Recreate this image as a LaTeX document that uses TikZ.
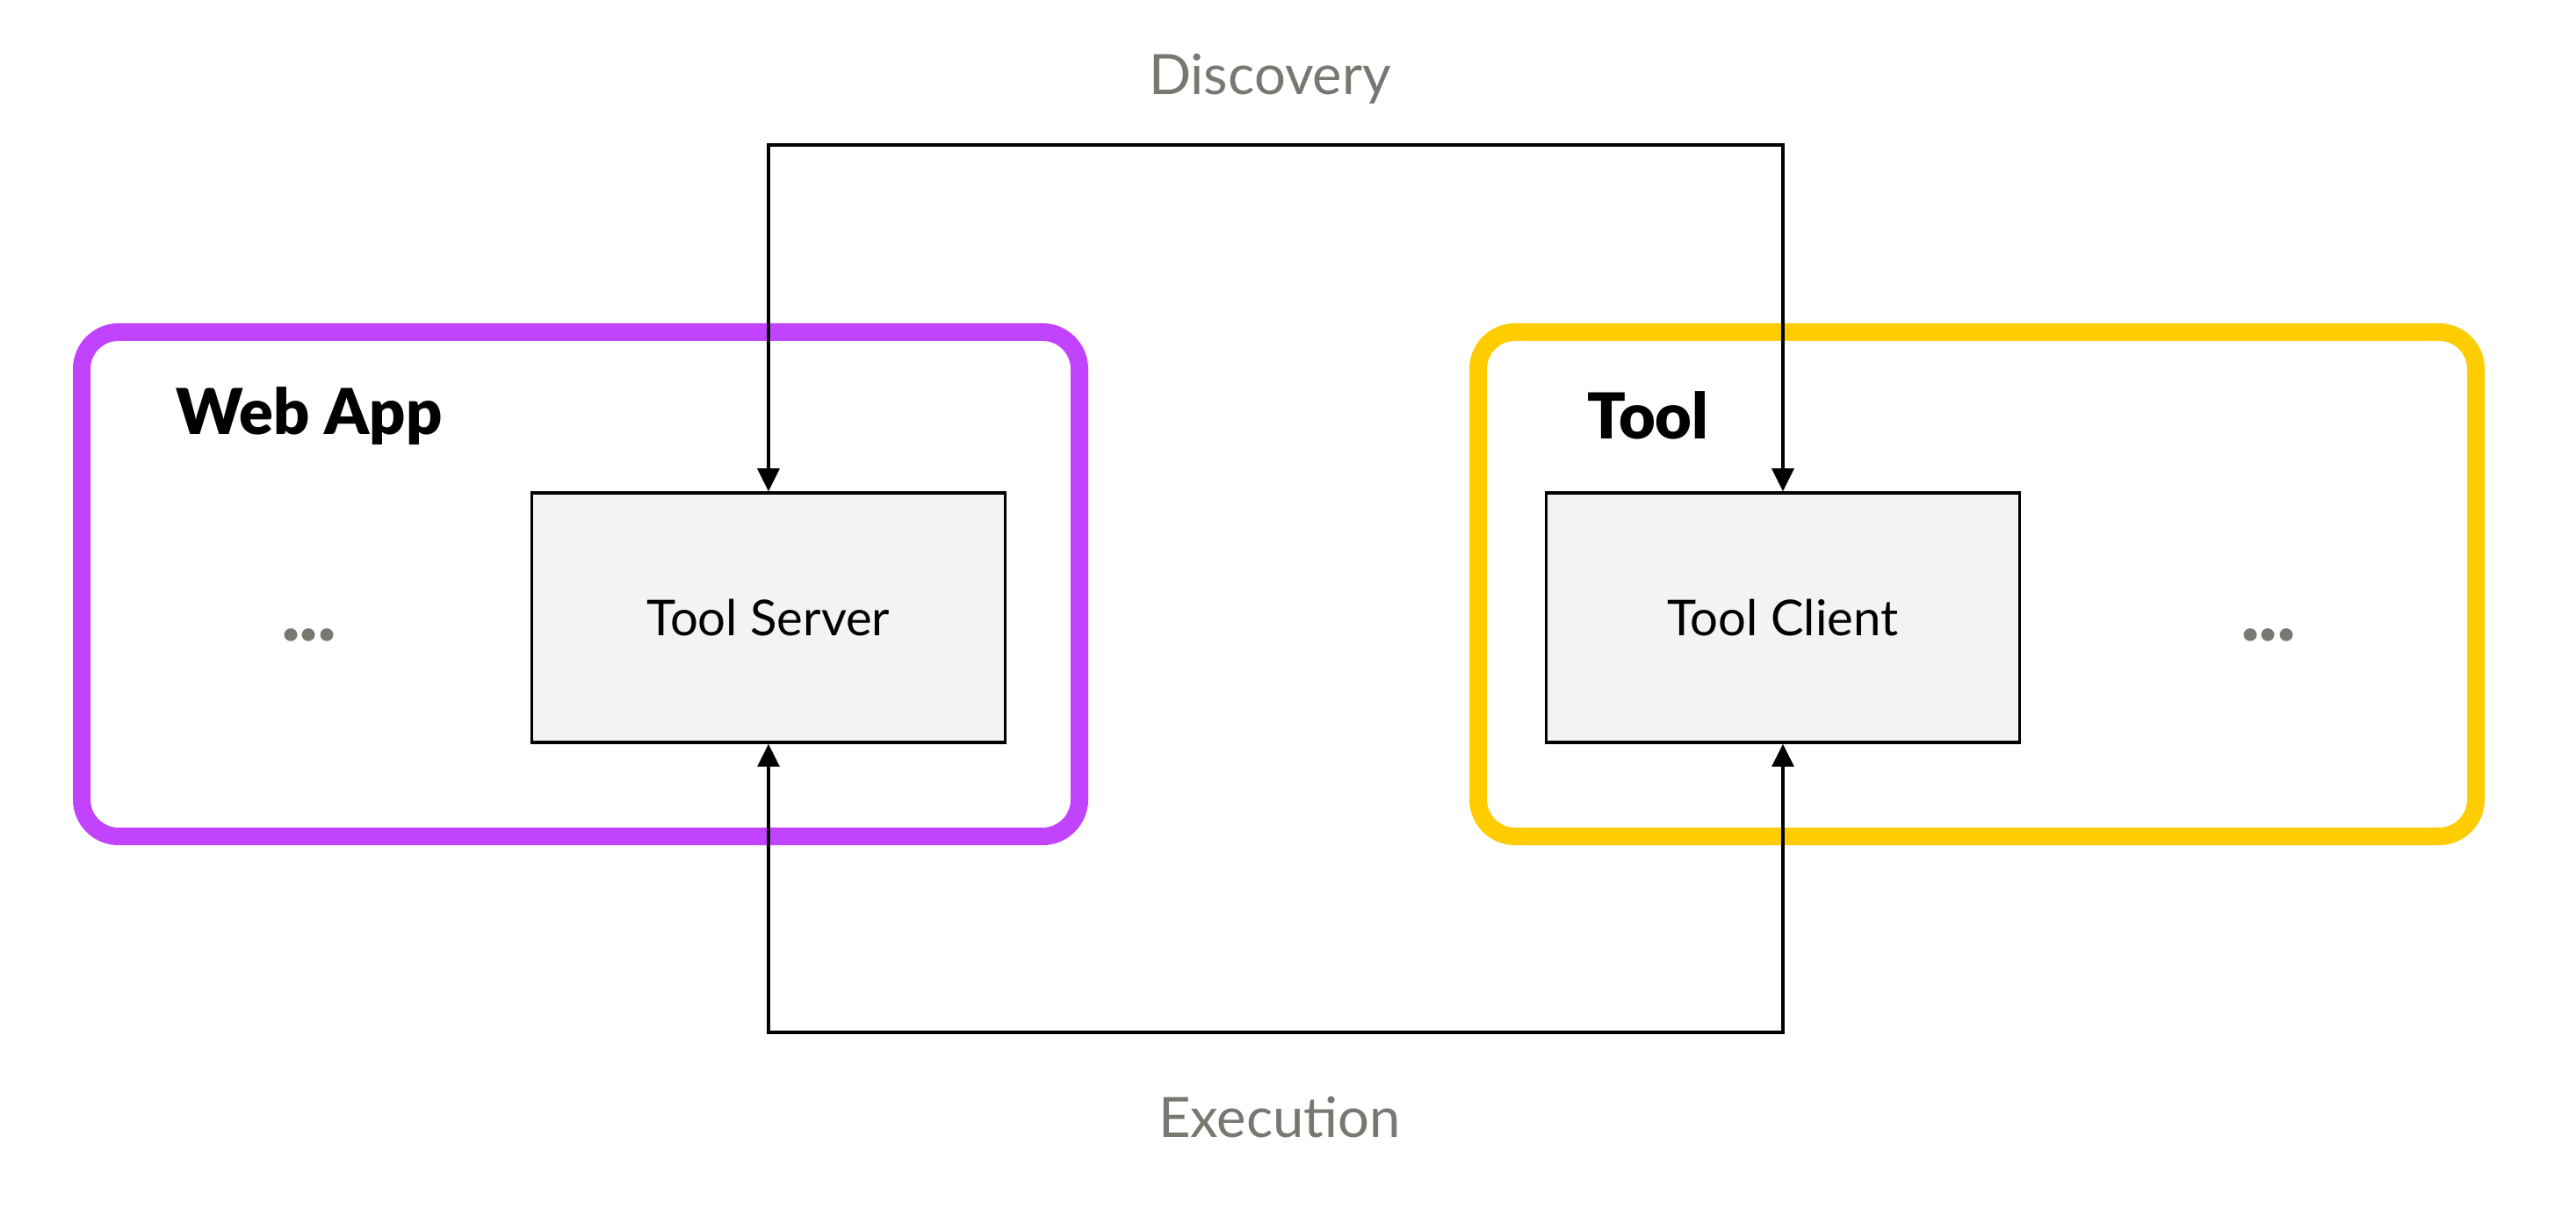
\documentclass[tikz,border=0pt]{standalone}
\usepackage{fontspec}
\setmainfont{Lato}
\newfontfamily\headfont{Lato Black}
\usetikzlibrary{arrows.meta}
\definecolor{appviolet}{HTML}{C243FE}
\definecolor{toolyellow}{HTML}{FFCC00}
\definecolor{boxgray}{HTML}{F3F3F1}
\definecolor{labelgray}{HTML}{787870}
\begin{document}
\begin{tikzpicture}
  \useasboundingbox (0,0) rectangle (29.33,13.84);
  % containers
  \begin{scope}[every node/.style={draw,rounded corners=0.42cm,line width=0.2cm,
      minimum width=11.36cm,minimum height=5.74cm,inner sep=0pt}]
    \node[draw=appviolet] (webapp) at (6.61,7.19) {};
    \node[draw=toolyellow] (tool) at (22.51,7.19) {};
  \end{scope}
  \begin{scope}[every node/.style={anchor=west,inner sep=0pt,font=\headfont\fontsize{20.5}{24}\selectfont}]
    \node (webapptitle) at (2.00,9.11) {Web App};
    \node (tooltitle) at (18.07,9.11) {Tool};
  \end{scope}
  % inner boxes
  \begin{scope}[every node/.style={draw,fill=boxgray,line width=1pt,
      minimum width=5.39cm,minimum height=2.84cm,font=\fontsize{16}{19}\selectfont}]
    \node (server) at (8.75,6.81) {Tool Server};
    \node (client) at (20.30,6.81) {Tool Client};
  \end{scope}
  \begin{scope}[every node/.style={text=labelgray,font=\fontsize{18}{22}\selectfont}]
    \node[font=\headfont\fontsize{24}{28}\selectfont] (leftdots) at (3.52,6.61) {...};
    \node[font=\headfont\fontsize{24}{28}\selectfont] (rightdots) at (25.83,6.61) {...};
    \node (discovery) at (14.46,12.94) {Discovery};
    \node (execution) at (14.57,1.12) {Execution};
  \end{scope}
  \coordinate (disctop) at (14.46,12.19);
  \coordinate (execbot) at (14.46,2.09);
  % connectors
  \begin{scope}[every path/.style={draw=black,line width=1pt,
      {Triangle[length=2.6mm,width=2.5mm]}-{Triangle[length=2.6mm,width=2.5mm]}}]
    \path (server.north) |- (disctop) -| (client.north);
    \path (server.south) |- (execbot) -| (client.south);
  \end{scope}
\end{tikzpicture}
\end{document}
